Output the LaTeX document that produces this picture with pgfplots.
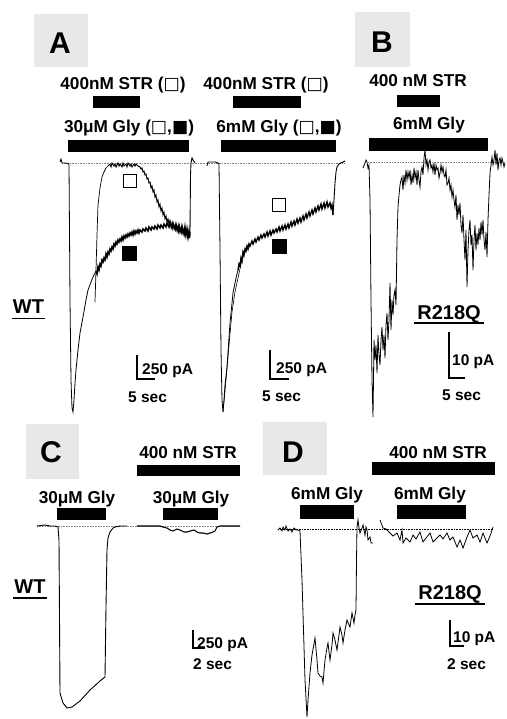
\documentclass[border=0pt]{standalone}
\usepackage{pgfplots}
\pgfplotsset{compat=1.18}
\usepackage{fontspec}
\setmainfont{Liberation Sans}
\newfontfamily\sym{DejaVu Sans}
\newcommand{\os}{{\sym □}}
\newcommand{\fs}{{\sym ■}}
\definecolor{boxgray}{HTML}{E8E8E8}
\tikzset{
  lab/.style={font=\bfseries\fontsize{17.2}{18}\selectfont, anchor=base, inner sep=0pt},
  sc/.style={font=\bfseries\fontsize{15.5}{16}\selectfont, anchor=base west, inner sep=0pt},
  pl/.style={font=\bfseries\fontsize{30}{32}\selectfont, anchor=center, inner sep=0pt},
  gt/.style={font=\bfseries\fontsize{20}{22}\selectfont, anchor=base, inner sep=0pt},
}
\begin{document}
\begin{tikzpicture}
\begin{axis}[width=506pt, height=719pt, scale only axis,
  xmin=0, xmax=506, ymin=0, ymax=719, y dir=reverse,
  hide axis, clip=false]
% panel label boxes
\fill[boxgray] (axis cs:34,14) rectangle (axis cs:88,67);
\fill[boxgray] (axis cs:355,12) rectangle (axis cs:410,67);
\fill[boxgray] (axis cs:26,424) rectangle (axis cs:79,479);
\fill[boxgray] (axis cs:263,422) rectangle (axis cs:327,475);
\node[pl] at (axis cs:60,43) {A};
\node[pl] at (axis cs:382,42) {B};
\node[pl] at (axis cs:51,452) {C};
\node[pl] at (axis cs:293,452) {D};
% application labels and bars
\node[lab] at (axis cs:123,90) {400nM STR (\os)};
\node[lab] at (axis cs:129,133) {30μM Gly (\os,\fs)};
\node[lab] at (axis cs:266,90) {400nM STR (\os)};
\node[lab] at (axis cs:279,133) {6mM Gly (\os,\fs)};
\node[lab] at (axis cs:418,87) {400 nM STR};
\node[lab] at (axis cs:429,130) {6mM Gly};
\node[lab] at (axis cs:188,458) {400 nM STR};
\node[lab] at (axis cs:77,503) {30μM Gly};
\node[lab] at (axis cs:191,503) {30μM Gly};
\node[lab] at (axis cs:438,458) {400 nM STR};
\node[lab] at (axis cs:327,499) {6mM Gly};
\node[lab] at (axis cs:430,499) {6mM Gly};
\fill (axis cs:93,96) rectangle (axis cs:140,108);
\fill (axis cs:68,140) rectangle (axis cs:189,152);
\fill (axis cs:233,96) rectangle (axis cs:301,108);
\fill (axis cs:221,140) rectangle (axis cs:336,152);
\fill (axis cs:397,95) rectangle (axis cs:440,107);
\fill (axis cs:369,138) rectangle (axis cs:488,151);
\fill (axis cs:137,465) rectangle (axis cs:240,476);
\fill (axis cs:57,508) rectangle (axis cs:106,520);
\fill (axis cs:163,508) rectangle (axis cs:218,520);
\fill (axis cs:372,462) rectangle (axis cs:495,475);
\fill (axis cs:300,505) rectangle (axis cs:354,519);
\fill (axis cs:397,505) rectangle (axis cs:466,519);
% dotted baselines
\addplot[densely dotted, gray, line width=0.6pt] coordinates {(62,163) (345,163)};
\addplot[densely dotted, gray, line width=0.6pt] coordinates {(368,162) (505,162)};
\addplot[densely dotted, gray, line width=0.6pt] coordinates {(37,526) (240,526)};
\addplot[densely dotted, black, line width=0.6pt] coordinates {(278,529) (493,529)};
% ---- Panel A, trace 1: slow (filled square)
\addplot[black, line width=0.8pt] coordinates {(60,162)(61,159)(62,163)(66,163)(69,164)(70,300)(71,380)(72,408)(73,412)(74,400)(75,383)(76,370)(78,350)(80,333)(83,317)(86,300)(88,290)(91,282)(93,277)(96,271)};
\addplot[black, line width=1.5pt] coordinates {(96,271)(97,274)(98,267)(99,270)(100,264)(101,266)(102,260)(103,262)(104,258)(105,260)(106,254)(107,257)(108,252)(109,254)(110,249)(111,251)(112,247)(113,249)(114,244)(115,246)(116,242)(117,244)(118,240)(119,242)(120,239)(121,241)(122,237)(123,240)(124,236)(125,238)(126,235)(127,237)(128,234)(129,236)(130,233)(131,235)(132,232)(133,235)(134,231)(135,234)(136,231)(137,233)(138,230)(139,233)(140,230)(142,232)(143,229)(145,231)(146,228)(148,231)(149,227)(151,230)(152,227)(154,229)(155,226)(157,229)(158,225)(160,228)(161,225)(163,228)(164,224)(166,227)(167,223)(169,227)(170,222)(172,228)(173,223)(175,229)(176,224)(178,231)(179,225)(181,232)(182,226)(184,234)(185,227)(186,235)(187,229)(188,237)(189,231)(189.5,238)(190,232)};
\addplot[black, line width=0.9pt] coordinates {(190,232)(190.5,175)(191,163)(192,158)(193,160)(195,163)};
% trace 1: fast (open square)
\addplot[black, line width=0.7pt] coordinates {(95,302)(96,270)(97,235)(98,205)(100,188)(102,177)(104,172)(106,168)(108,166)};
\addplot[black, line width=0.9pt] coordinates {(108,166)(110,164)(111,167)(112,163)(114,166)(115,164)(116,167)(118,163)(119,166)(120,164)(122,167)(123,163)(124,166)(126,164)(127,167)(128,163)(130,166)(131,164)(132,167)(134,164)(135,166)(136,164)(138,166)(140,167)(141,169)(142,168)(143,172)(144,171)(145,175)(146,174)(147,179)(148,178)(149,183)(150,182)(151,188)(152,186)(153,192)(154,190)(155,197)(156,195)(157,202)(158,200)(159,207)(160,204)(161,211)(162,208)(163,215)(164,212)(165,219)(166,216)(167,222)(168,219)(169,225)(170,221)(171,227)(172,223)(173,229)(174,225)(176,231)(177,226)(179,233)(180,228)(182,234)(183,229)(185,236)(186,230)(188,238)(189,232)(190,236)};
% ---- Panel A, trace 2
\addplot[black, line width=0.8pt] coordinates {(207,166)(208,162)(212,162)(215,162)(218,163)(219,164)(220,250)(221,350)(222,400)(223,412)(224,400)(225,385)(227,367)(230,323)(233,293)(236,278)(238,270)};
\addplot[black, line width=0.6pt] coordinates {(223,412)(226,380)(229,345)(232,312)(235,292)(238,278)(241,264)(244,254)(248,247)};
\addplot[black, line width=1.4pt] coordinates {(238,270)(239,264)(240,266)(241,258)(242,261)(243,252)(244,255)(245,249)(246,251)(247,246)(248,249)(249,244)(250,246)(252,241)(253,244)(255,239)(256,242)(258,237)(259,240)(261,235)(262,238)(264,234)(265,237)(267,232)(268,236)(270,231)(271,235)(273,230)(274,233)(276,229)(277,232)(279,227)(280,231)(282,226)(283,230)(285,225)(286,229)(288,224)(289,228)(291,222)(292,226)(294,221)(295,225)(297,219)(298,223)(300,218)(301,222)(303,216)(304,220)(306,214)(307,218)(309,212)(310,216)(312,210)(313,214)(315,208)(316,212)(318,206)(319,210)(321,204)(322,209)(324,203)(325,208)(327,202)(328,207)(330,203)(331,208)(332,205)(333,215)};
\addplot[black, line width=0.9pt] coordinates {(333,215)(334,200)(335,183)(336,172)(337,167)(339,164)(341,163)(343,162)(345,161)};
% squares
\addplot[only marks, mark=square, mark size=6.5pt, mark options={line width=1pt, fill=white}] coordinates {(130,181.5) (279,205)};
\addplot[only marks, mark=square*, mark size=7pt, mark options={fill=black}] coordinates {(129,253) (279,246)};
% ---- Panel B trace
\addplot[black, line width=0.8pt] coordinates {(363,168)(365,163)(366,160)(367,162)(368,168)(369,165)(370,200)(371,300)(372,380)(373,417)(374,340)(375,360)(376,345)(377,373)(378,335)(379,355)(380,365)(381,340)(382,327)(383,350)(384,335)(385,358)(386,325)(387,313)(388,340)(389,320)(390,283)(391,330)(392,300)(393,315)(394,295)(395,290)(396,305)(397,240)(398,207)(399,195)(400,185)(401,180)(402,177)(403,190)(404,175)(405,183)(406,170)(407,180)(408,172)(409,178)(410,170)(411,185)(412,175)(413,183)(414,168)(415,178)(416,172)(417,185)(418,170)(419,180)(420,187)(421,172)(422,167)(423,175)(424,158)(425,150)(426,165)(427,160)(428,170)(429,162)(430,160)(431,168)(432,165)(433,172)(434,163)(435,175)(436,165)(437,170)(438,168)(439,178)(440,173)(441,165)(442,172)(443,167)(444,175)(445,177)(446,170)(447,185)(448,183)(449,178)(450,190)(451,185)(452,197)(453,190)(454,200)(455,207)(456,195)(457,220)(458,205)(459,215)(460,203)(461,225)(462,233)(463,215)(464,240)(465,260)(466,230)(467,287)(468,250)(469,230)(470,220)(471,245)(472,235)(473,270)(474,240)(475,225)(476,250)(477,233)(478,245)(479,228)(480,240)(481,222)(482,235)(483,220)(484,240)(485,250)(486,232)(487,257)(488,220)(489,195)(490,173)(491,165)(492,157)(493,165)(494,160)(495,150)(496,165)(497,153)(498,170)(499,160)(500,158)(501,165)(502,158)(503,162)(504,167)(505,163)};
% ---- Panel C traces
\addplot[black, line width=0.9pt] coordinates {(37,526)(45,525)(50,526)(55,526)(58,527)(59,540)(60,693)(63,703)(67,708)(72,707)(80,701)(90,690)(100,681)(105,677)(106,607)(107,550)(108,538)(110,532)(113,528)(115,527)(120,526)(127,526)};
\addplot[black, line width=1.1pt] coordinates {(137,526)(145,526)(155,526)(160,526)(163,527)(167,528)(170,530)(173,531)(177,529)(180,530)(184,532)(187,532)(190,531)(194,530)(197,532)(200,533)(203,533)(207,534)(210,533)(213,532)(215,531)(217,527)(220,526)(230,526)(240,526)};
% ---- Panel D traces
\addplot[black, line width=0.8pt] coordinates {(278,530)(280,528)(282,531)(283,527)(285,530)(286,526)(288,531)(290,529)(292,532)(294,528)(296,530)(298,530)(300,531)(302,580)(305,680)(307,717)(308,700)(310,673)(312,655)(315,638)(317,660)(318,673)(320,676)(322,677)(323,683)(325,660)(327,648)(328,643)(330,660)(332,645)(333,633)(335,640)(337,650)(339,635)(340,627)(342,635)(343,643)(345,630)(347,620)(349,625)(350,627)(352,613)(354,623)(355,615)(356,610)(356.5,560)(357,527)(358,520)(359,528)(360,533)(362,528)(363,525)(364,530)(365,535)(366,527)(367,530)(368,540)(370,537)(371,543)(373,543)};
\addplot[black, line width=0.8pt] coordinates {(380,520)(383,528)(386,529)(390,533)(393,536)(397,533)(400,540)(402,530)(403,543)(406,538)(410,542)(413,535)(416,539)(420,532)(423,542)(426,538)(430,533)(433,542)(436,539)(440,535)(443,539)(447,533)(450,540)(453,537)(457,547)(460,540)(463,548)(467,537)(470,530)(473,538)(477,535)(480,542)(483,533)(487,543)(490,536)(493,527)};
% ---- scale bars
\draw[line width=1.2pt] (axis cs:137,355) -- (axis cs:137,379) -- (axis cs:155,379);
\draw[line width=1.2pt] (axis cs:270,350) -- (axis cs:270,379) -- (axis cs:289,379);
\draw[line width=1.2pt] (axis cs:449,332) -- (axis cs:449,378) -- (axis cs:465,378);
\draw[line width=1.2pt] (axis cs:193,630) -- (axis cs:193,648) -- (axis cs:205,648);
\draw[line width=1.2pt] (axis cs:450,620) -- (axis cs:450,646) -- (axis cs:464,646);
\node[sc] at (axis cs:142,374) {250 pA};
\node[sc] at (axis cs:128,402) {5 sec};
\node[sc] at (axis cs:276,373) {250 pA};
\node[sc] at (axis cs:262,401) {5 sec};
\node[sc] at (axis cs:452,365) {10 pA};
\node[sc] at (axis cs:442,400) {5 sec};
\node[sc] at (axis cs:197,648) {250 pA};
\node[sc] at (axis cs:193,669) {2 sec};
\node[sc] at (axis cs:453,642) {10 pA};
\node[sc] at (axis cs:447,669) {2 sec};
% genotype labels
\node[gt] at (axis cs:28.5,313) {WT};
\draw[line width=1.6pt] (axis cs:12,318.5) -- (axis cs:45,318.5);
\node[gt] at (axis cs:449,319) {R218Q};
\draw[line width=1.6pt] (axis cs:414,323) -- (axis cs:484,323);
\node[gt] at (axis cs:30,593) {WT};
\draw[line width=1.6pt] (axis cs:13,598) -- (axis cs:47,598);
\node[gt] at (axis cs:450,599) {R218Q};
\draw[line width=1.6pt] (axis cs:415,604) -- (axis cs:485,604);
\end{axis}
\pgfresetboundingbox
\path[use as bounding box] (current axis.south west) rectangle (current axis.north east);
\end{tikzpicture}
\end{document}
